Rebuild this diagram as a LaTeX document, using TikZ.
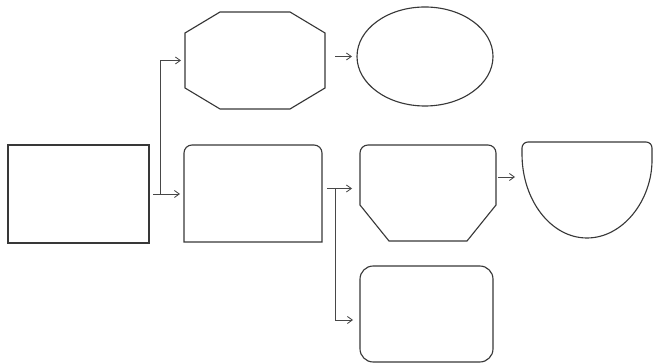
\documentclass[tikz,border=0pt]{standalone}
\usetikzlibrary{positioning, calc, shapes.geometric, arrows.meta}

\tikzset{
	shapeline/.style={draw=black!78, line width=0.8pt}
}
\tikzset{
	spot/.style n args={2}{inner sep=0pt, outer sep=0pt, minimum width=#1, minimum height=#2}
}
\tikzset{
	link/.style={draw=black!72, line width=0.6pt, -{Straight Barb[length=3.5pt,width=5pt]},
			shorten <=1mm, shorten >=1mm}
}

\begin{document}
\begin{tikzpicture}
	\useasboundingbox (0,0) rectangle (16.35,9.1);

	\begin{scope}
		\node[spot={3.525cm}{2.45cm}, shapeline, rectangle] (start) at (1.9625,4.25) {};
		\node[spot={3.5cm}{2.425cm}] (octa) at (6.375,7.5875) {};
		\node[spot={3.4cm}{2.475cm}, shapeline, ellipse] (oval) at (10.625,7.6875) {};
		\node[spot={3.45cm}{2.425cm}] (roof) at (6.325,4.2625) {};
		\node[spot={3.4cm}{2.4cm}] (funnel) at (10.7,4.275) {};
		\node[spot={3.25cm}{2.4cm}] (bowl) at (14.675,4.35) {};
		\node[spot={3.325cm}{2.4cm}, shapeline, rectangle, rounded corners=3.3mm] (pad) at (10.6625,1.25) {};
	\end{scope}

	% outlines drawn by hand
	\draw[shapeline] ([xshift=8.75mm]octa.north west) -- ([xshift=-8.75mm]octa.north east)
		-- ([yshift=-5.25mm]octa.north east) -- ([yshift=5.25mm]octa.south east)
		-- ([xshift=-8.75mm]octa.south east) -- ([xshift=8.75mm]octa.south west)
		-- ([yshift=5.25mm]octa.south west) -- ([yshift=-5.25mm]octa.north west) -- cycle;
	\draw[shapeline] (roof.south west) -- ([yshift=-2mm]roof.north west)
		arc[start angle=180, end angle=90, radius=2mm] -- ([xshift=-2mm]roof.north east)
		arc[start angle=90, end angle=0, radius=2mm] -- (roof.south east) -- cycle;
	\draw[shapeline] ([yshift=9mm]funnel.south west) -- ([yshift=-2mm]funnel.north west)
		arc[start angle=180, end angle=90, radius=2mm] -- ([xshift=-2mm]funnel.north east)
		arc[start angle=90, end angle=0, radius=2mm] -- ([yshift=9mm]funnel.south east)
		-- ([xshift=-7.25mm]funnel.south east) -- ([xshift=7.25mm]funnel.south west) -- cycle;
	\draw[shapeline, rounded corners=1.5mm] ([yshift=-3mm]bowl.north west) -- (bowl.north west)
		-- (bowl.north east) -- ([yshift=-3mm]bowl.north east)
		[sharp corners] arc[start angle=0, end angle=-180, x radius=1.625cm, y radius=2.1cm] -- cycle;

	\begin{scope}
		\coordinate (forkA) at ($(start.east)+(0.275,0)$);
		\coordinate (roofOut) at ([yshift=1.25mm]roof.east);
		\coordinate (forkB) at ($(roofOut)+(0.325,0)$);
		\coordinate (funnelOut) at ([yshift=4mm]funnel.east);

		\draw[link] (start.east) -- (start.east -| roof.west);
		\draw[link, shorten <=0mm] (forkA) |- (octa.west);
		\draw[link, shorten <=2.5mm, shorten >=1.25mm] (oval.west -| octa.east) -- (oval.west);
		\draw[link, shorten <=1.25mm, shorten >=2mm] (roofOut) -- (roofOut -| funnel.west);
		\draw[link, shorten <=0mm, shorten >=1.75mm] (forkB) |- ([yshift=-1.5mm]pad.west);
		\draw[link, shorten <=0.5mm, shorten >=1.75mm] (funnelOut) -- (funnelOut -| bowl.west);
	\end{scope}

\end{tikzpicture}
\end{document}
